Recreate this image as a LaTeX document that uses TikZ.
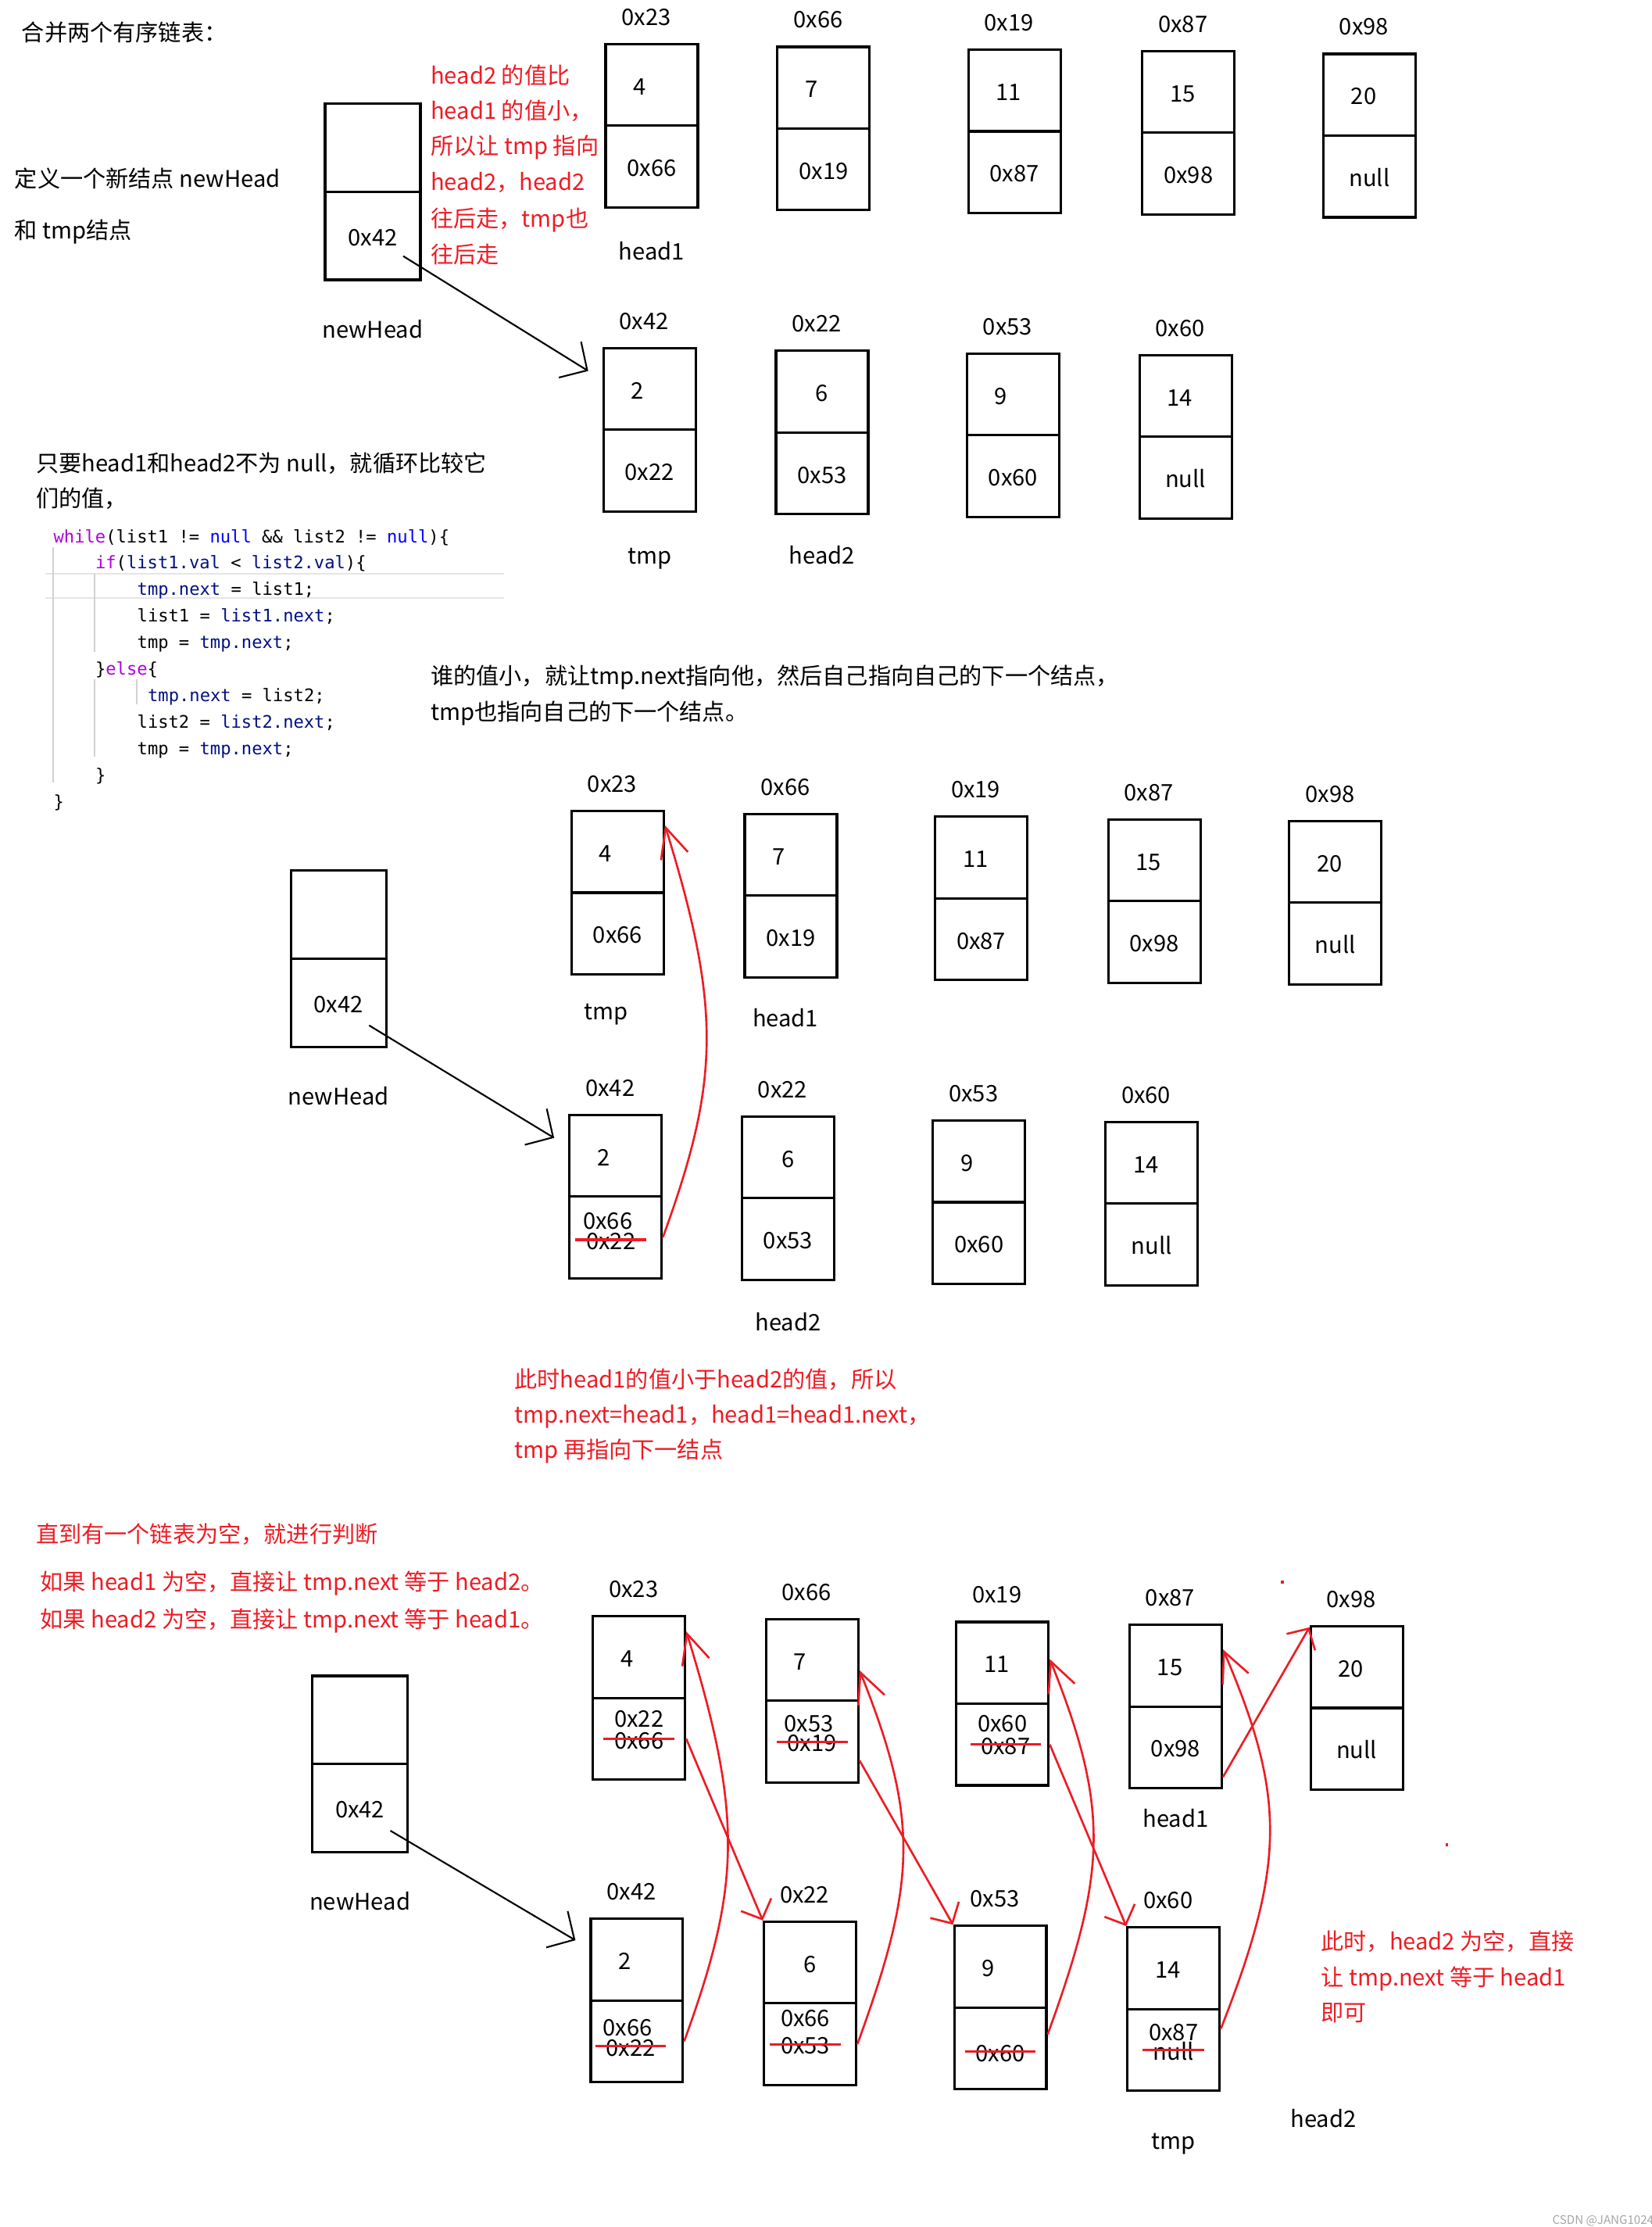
\documentclass[tikz,border=0pt]{standalone}
\usepackage{fontspec}
\setmainfont{Noto Sans CJK SC}
\setmonofont{DejaVu Sans Mono}
\usepackage[dvipsnames]{xcolor}
\usetikzlibrary{arrows.meta}

\definecolor{notered}{RGB}{237,28,36}
\definecolor{kwcolor}{RGB}{175,0,219}
\definecolor{nullcolor}{RGB}{0,0,255}
\definecolor{varcolor}{RGB}{0,16,128}

\begin{document}
\begin{tikzpicture}[x=0.018169cm,y=-0.018169cm,node distance=1.045cm,font=\fontsize{8.3pt}{10pt}\selectfont,
    txt/.style={inner sep=0pt,text height=0.72em,text depth=0pt},
    left text/.style={txt,anchor=west},
    red text/.style={left text,text=notered},
    code line/.style={left text,font=\fontsize{6.3pt}{7pt}\selectfont\ttfamily},
    cell/.style={txt,draw,line width=0.9pt,minimum width=1.18cm,minimum height=1.045cm},
    val/.style={cell,text width=0.47cm,align=left},
    head cell/.style={cell,minimum width=1.22cm,minimum height=1.127cm,node distance=1.127cm},
    addr/.style={txt,node distance=0.89cm,xshift=-0.07cm},
    tag/.style={txt,node distance=1.07cm},
    old/.style={txt,inner xsep=0.13cm},
    strike/.style={draw=notered,line width=0.9pt},
    hl rule/.style={draw=black!10,line width=0.6pt},
    guide/.style={draw=black!18,line width=0.6pt},
    black arrow/.style={draw=black,line width=0.6pt,-{Straight Barb[length=0.26cm,width=0.54cm]}},
    red link/.style={draw=notered,line width=0.75pt,-{Straight Barb[length=0.2cm,width=0.42cm]}},
    red curve/.style={draw=notered,line width=0.75pt,-{Straight Barb[length=0.38cm,width=0.36cm]}}]
            \path[use as bounding box,fill=white] (0,0) rectangle (1163,1568);

            \node[left text] (title) at (15,22) {合并两个有序链表：};
            \node[left text] (defa) at (10,125) {定义一个新结点 newHead};
            \node[left text] (defb) at (10,161) {和 tmp结点};
            \node[red text] (notea) at (303,52) {head2 的值比};
            \node[red text] (noteb) at (303,77) {head1 的值小，};
            \node[red text] (notec) at (303,102) {所以让 tmp 指向};
            \node[red text] (noted) at (303,127) {head2，head2};
            \node[red text] (notee) at (303,153) {往后走，tmp也};
            \node[red text] (notef) at (303,178) {往后走};

            \node[head cell] (s1nv) at (262.5,104) {};
            \node[head cell] (s1nn) [below of=s1nv] {0x42};
            \node[tag] (s1nt) [below of=s1nn, node distance=1.18cm] {newHead};

            \node[val] (s1av) at (459,59.75) {4};
            \node[cell] (s1an) [below of=s1av] {0x66};
            \node[addr] (s1al) [above of=s1av] {0x23};
            \node[tag] (s1at) [below of=s1an] {head1};
            \node[val] (s1bv) at (580,61.75) {7};
            \node[cell] (s1bn) [below of=s1bv] {0x19};
            \node[addr] (s1bl) [above of=s1bv] {0x66};
            \node[val] (s1cv) at (714.5,63.75) {11};
            \node[cell] (s1cn) [below of=s1cv] {0x87};
            \node[addr] (s1cl) [above of=s1cv] {0x19};
            \node[val] (s1dv) at (837,64.75) {15};
            \node[cell] (s1dn) [below of=s1dv] {0x98};
            \node[addr] (s1dl) [above of=s1dv] {0x87};
            \node[val] (s1ev) at (964.5,66.75) {20};
            \node[cell] (s1en) [below of=s1ev] {null};
            \node[addr] (s1el) [above of=s1ev] {0x98};

            \node[val] (s1fv) at (457.5,273.75) {2};
            \node[cell] (s1fn) [below of=s1fv] {0x22};
            \node[addr] (s1fl) [above of=s1fv] {0x42};
            \node[tag] (s1ft) [below of=s1fn] {tmp};
            \node[cell] (s1gv) at (579,275.75) {6};
            \node[cell] (s1gn) [below of=s1gv] {0x53};
            \node[addr] (s1gl) [above of=s1gv] {0x22};
            \node[tag] (s1gt) [below of=s1gn, node distance=1.03cm] {head2};
            \node[val] (s1hv) at (713.5,277.75) {9};
            \node[cell] (s1hn) [below of=s1hv] {0x60};
            \node[addr] (s1hl) [above of=s1hv] {0x53};
            \node[val] (s1iv) at (835,278.75) {14};
            \node[cell] (s1in) [below of=s1iv] {null};
            \node[addr] (s1il) [above of=s1iv] {0x60};

            \node[left text] (loopa) at (25,325) {只要head1和head2不为 null，就循环比较它};
            \node[left text] (loopb) at (25,350) {们的值，};

            \draw[hl rule] (32,404) -- (355,404);
            \draw[hl rule] (32,421) -- (355,421);
            \draw[guide] (37.4,385) -- (37.4,551);
            \draw[guide] (66.8,404) -- (66.8,459);
            \draw[guide] (66.8,478) -- (66.8,533);
            \draw[guide] (96.3,478) -- (96.3,496);
            \node[code line] (cwhile) at (37.4,375) {\textcolor{kwcolor}{while}(list1 != \textcolor{nullcolor}{null} \&\& list2 != \textcolor{nullcolor}{null})\{};
            \node[code line] (cif) at (66.8,393.7) {\textcolor{kwcolor}{if}(\textcolor{varcolor}{list1.val} < \textcolor{varcolor}{list2.val})\{};
            \node[code line] (cifa) at (96.3,412.4) {\textcolor{varcolor}{tmp.next} = list1;};
            \node[code line] (cifb) at (96.3,431.1) {list1 = \textcolor{varcolor}{list1.next};};
            \node[code line] (cifc) at (96.3,449.8) {tmp = \textcolor{varcolor}{tmp.next};};
            \node[code line] (celse) at (66.8,468.5) {\}\textcolor{kwcolor}{else}\{};
            \node[code line] (celsea) at (103.7,487.2) {\textcolor{varcolor}{tmp.next} = list2;};
            \node[code line] (celseb) at (96.3,505.9) {list2 = \textcolor{varcolor}{list2.next};};
            \node[code line] (celsec) at (96.3,524.6) {tmp = \textcolor{varcolor}{tmp.next};};
            \node[code line] (cendif) at (66.8,543.3) {\}};
            \node[code line] (cend) at (37.4,562) {\}};

            \node[left text] (whoa) at (303,475) {谁的值小，就让tmp.next指向他，然后自己指向自己的下一个结点，};
            \node[left text] (whob) at (303,500) {tmp也指向自己的下一个结点。};

            \node[head cell] (s2nv) at (238.5,644) {};
            \node[head cell] (s2nn) [below of=s2nv] {0x42};
            \node[tag] (s2nt) [below of=s2nn, node distance=1.18cm] {newHead};

            \node[val] (s2av) at (435,599.75) {4};
            \node[cell] (s2an) [below of=s2av] {0x66};
            \node[addr] (s2al) [above of=s2av] {0x23};
            \node[tag] (s2at) [below of=s2an, node distance=0.98cm, xshift=-0.15cm] {tmp};
            \node[val] (s2bv) at (557,601.75) {7};
            \node[cell] (s2bn) [below of=s2bv] {0x19};
            \node[addr] (s2bl) [above of=s2bv] {0x66};
            \node[tag] (s2bt) [below of=s2bn, node distance=1.03cm, xshift=-0.07cm] {head1};
            \node[val] (s2cv) at (691,603.75) {11};
            \node[cell] (s2cn) [below of=s2cv] {0x87};
            \node[addr] (s2cl) [above of=s2cv] {0x19};
            \node[val] (s2dv) at (813,605.75) {15};
            \node[cell] (s2dn) [below of=s2dv] {0x98};
            \node[addr] (s2dl) [above of=s2dv] {0x87};
            \node[val] (s2ev) at (940.5,606.75) {20};
            \node[cell] (s2en) [below of=s2ev] {null};
            \node[addr] (s2el) [above of=s2ev] {0x98};

            \node[val] (s2fv) at (433.5,813.75) {2};
            \node[cell] (s2fn) [below of=s2fv] {};
            \node[addr] (s2fl) [above of=s2fv] {0x42};
            \node[txt] (s2fnew) [above of=s2fn, node distance=0.23cm, xshift=-0.1cm] {0x66};
            \node[old] (s2fold) [below of=s2fn, node distance=0.03cm, xshift=-0.06cm] {0x22};
            \node[cell] (s2gv) at (555,814.75) {6};
            \node[cell] (s2gn) [below of=s2gv] {0x53};
            \node[addr] (s2gl) [above of=s2gv] {0x22};
            \node[tag] (s2gt) [below of=s2gn, node distance=1.05cm] {head2};
            \node[val] (s2hv) at (689.5,817.75) {9};
            \node[cell] (s2hn) [below of=s2hv] {0x60};
            \node[addr] (s2hl) [above of=s2hv] {0x53};
            \node[val] (s2iv) at (811,818.75) {14};
            \node[cell] (s2in) [below of=s2iv] {null};
            \node[addr] (s2il) [above of=s2iv] {0x60};

            \node[red text] (nowa) at (362,970) {此时head1的值小于head2的值，所以};
            \node[red text] (nowb) at (362,995) {tmp.next=head1，head1=head1.next，};
            \node[red text] (nowc) at (362,1020) {tmp 再指向下一结点};

            \node[red text] (enda) at (25,1079) {直到有一个链表为空，就进行判断};
            \node[red text] (endb) at (28,1113) {如果 head1 为空，直接让 tmp.next 等于 head2。};
            \node[red text] (endc) at (28,1139) {如果 head2 为空，直接让 tmp.next 等于 head1。};

            \node[head cell] (s3nv) at (253.5,1211) {};
            \node[head cell] (s3nn) [below of=s3nv] {0x42};
            \node[tag] (s3nt) [below of=s3nn, node distance=1.18cm] {newHead};

            \node[val] (s3av) at (450,1166.75) {4};
            \node[cell] (s3an) [below of=s3av] {};
            \node[addr] (s3al) [above of=s3av] {0x23};
            \node[txt] (s3anew) [above of=s3an, node distance=0.28cm] {0x22};
            \node[old] (s3aold) at (s3an) {0x66};
            \node[val] (s3bv) at (572,1168.75) {7};
            \node[cell] (s3bn) [below of=s3bv] {};
            \node[addr] (s3bl) [above of=s3bv] {0x66};
            \node[txt] (s3bnew) [above of=s3bn, node distance=0.25cm, xshift=-0.04cm] {0x53};
            \node[old] (s3bold) at (s3bn) {0x19};
            \node[val] (s3cv) at (706,1170.75) {11};
            \node[cell] (s3cn) [below of=s3cv] {};
            \node[addr] (s3cl) [above of=s3cv] {0x19};
            \node[txt] (s3cnew) [above of=s3cn, node distance=0.29cm] {0x60};
            \node[old, xshift=0.04cm] (s3cold) at (s3cn) {0x87};
            \node[val] (s3dv) at (828,1172.75) {15};
            \node[cell] (s3dn) [below of=s3dv] {0x98};
            \node[addr] (s3dl) [above of=s3dv] {0x87};
            \node[tag] (s3dt) [below of=s3dn, node distance=0.9cm] {head1};
            \node[val] (s3ev) at (955.5,1173.75) {20};
            \node[cell] (s3en) [below of=s3ev] {null};
            \node[addr] (s3el) [above of=s3ev] {0x98};

            \node[val] (s3fv) at (448.5,1379.75) {2};
            \node[cell] (s3fn) [below of=s3fv] {};
            \node[addr] (s3fl) [above of=s3fv] {0x42};
            \node[txt] (s3fnew) [above of=s3fn, node distance=0.2cm, xshift=-0.12cm] {0x66};
            \node[old] (s3fold) [below of=s3fn, node distance=0.06cm, xshift=-0.08cm] {0x22};
            \node[cell] (s3gv) at (570.5,1381.75) {6};
            \node[cell] (s3gn) [below of=s3gv] {};
            \node[addr] (s3gl) [above of=s3gv] {0x22};
            \node[txt] (s3gnew) [above of=s3gn, node distance=0.35cm, xshift=-0.06cm] {0x66};
            \node[old, xshift=-0.06cm] (s3gold) at (s3gn) {0x53};
            \node[val] (s3hv) at (704.5,1384.75) {9};
            \node[cell] (s3hn) [below of=s3hv] {};
            \node[addr] (s3hl) [above of=s3hv] {0x53};
            \node[old] (s3hold) [below of=s3hn, node distance=0.04cm] {0x60};
            \node[val] (s3iv) at (826.5,1385.75) {14};
            \node[cell] (s3in) [below of=s3iv] {};
            \node[addr] (s3il) [above of=s3iv] {0x60};
            \node[txt] (s3inew) [above of=s3in, node distance=0.25cm] {0x87};
            \node[old] (s3iold) at (s3in) {null};
            \node[tag] (s3it) [below of=s3in, node distance=1.14cm] {tmp};
            \node[txt] (s3h2) at (932,1491) {head2};

            \node[red text] (lasta) at (930,1366) {此时，head2 为空，直接};
            \node[red text] (lastb) at (930,1391) {让 tmp.next 等于 head1};
            \node[red text] (lastc) at (930,1416) {即可};

            \fill[notered] (902,1113) rectangle (904,1115);
            \fill[notered] (1018,1298) rectangle (1020,1300);
            \node[left text, text=black!35, font=\fontsize{4.3pt}{5pt}\selectfont] (wm) at (1093,1559) {CSDN @JANG1024};

            \draw[strike] (s2fold.west) -- (s2fold.east);
            \draw[strike] (s3aold.west) -- (s3aold.east);
            \draw[strike] (s3bold.west) -- (s3bold.east);
            \draw[strike] (s3cold.west) -- (s3cold.east);
            \draw[strike] (s3fold.west) -- (s3fold.east);
            \draw[strike] (s3gold.west) -- (s3gold.east);
            \draw[strike] (s3hold.west) -- (s3hold.east);
            \draw[strike] (s3iold.west) -- (s3iold.east);

            \path
                ([xshift=0.39cm,yshift=-0.26cm]s1nn.center) edge[black arrow] ([xshift=-0.18cm,yshift=-0.31cm]s1fv.north west)
                ([xshift=0.39cm,yshift=-0.29cm]s2nn.center) edge[black arrow] ([xshift=-0.18cm,yshift=-0.31cm]s2fv.north west)
                ([xshift=0.39cm,yshift=-0.29cm]s3nn.center) edge[black arrow] ([xshift=-0.18cm,yshift=-0.29cm]s3fv.north west)
                (s3an.east) edge[red link] (s3gv.north west)
                ([yshift=-0.24cm]s3bn.east) edge[red link] (s3hv.north west)
                (s3cn.east) edge[red link] (s3iv.north west)
                ([yshift=-0.38cm]s3dn.east) edge[red link] ([yshift=-0.03cm]s3ev.north west)
                ;

            \draw[red curve] (s2fn.east) .. controls +(40,-110) and +(40,130) .. ([yshift=-0.2cm]s2av.north east);
            \draw[red curve] (s3fn.east) .. controls +(40,-110) and +(40,130) .. ([yshift=-0.21cm]s3av.north east);
            \draw[red curve] (s3gn.east) .. controls +(42,-115) and +(42,105) .. ([yshift=-0.67cm]s3bv.north east);
            \draw[red curve] ([yshift=0.18cm]s3hn.east) .. controls +(42,-115) and +(42,105) .. ([yshift=-0.49cm]s3cv.north east);
            \draw[red curve] ([yshift=0.27cm]s3in.east) .. controls +(45,-115) and +(45,105) .. ([yshift=-0.33cm]s3dv.north east);
\end{tikzpicture}
\end{document}
